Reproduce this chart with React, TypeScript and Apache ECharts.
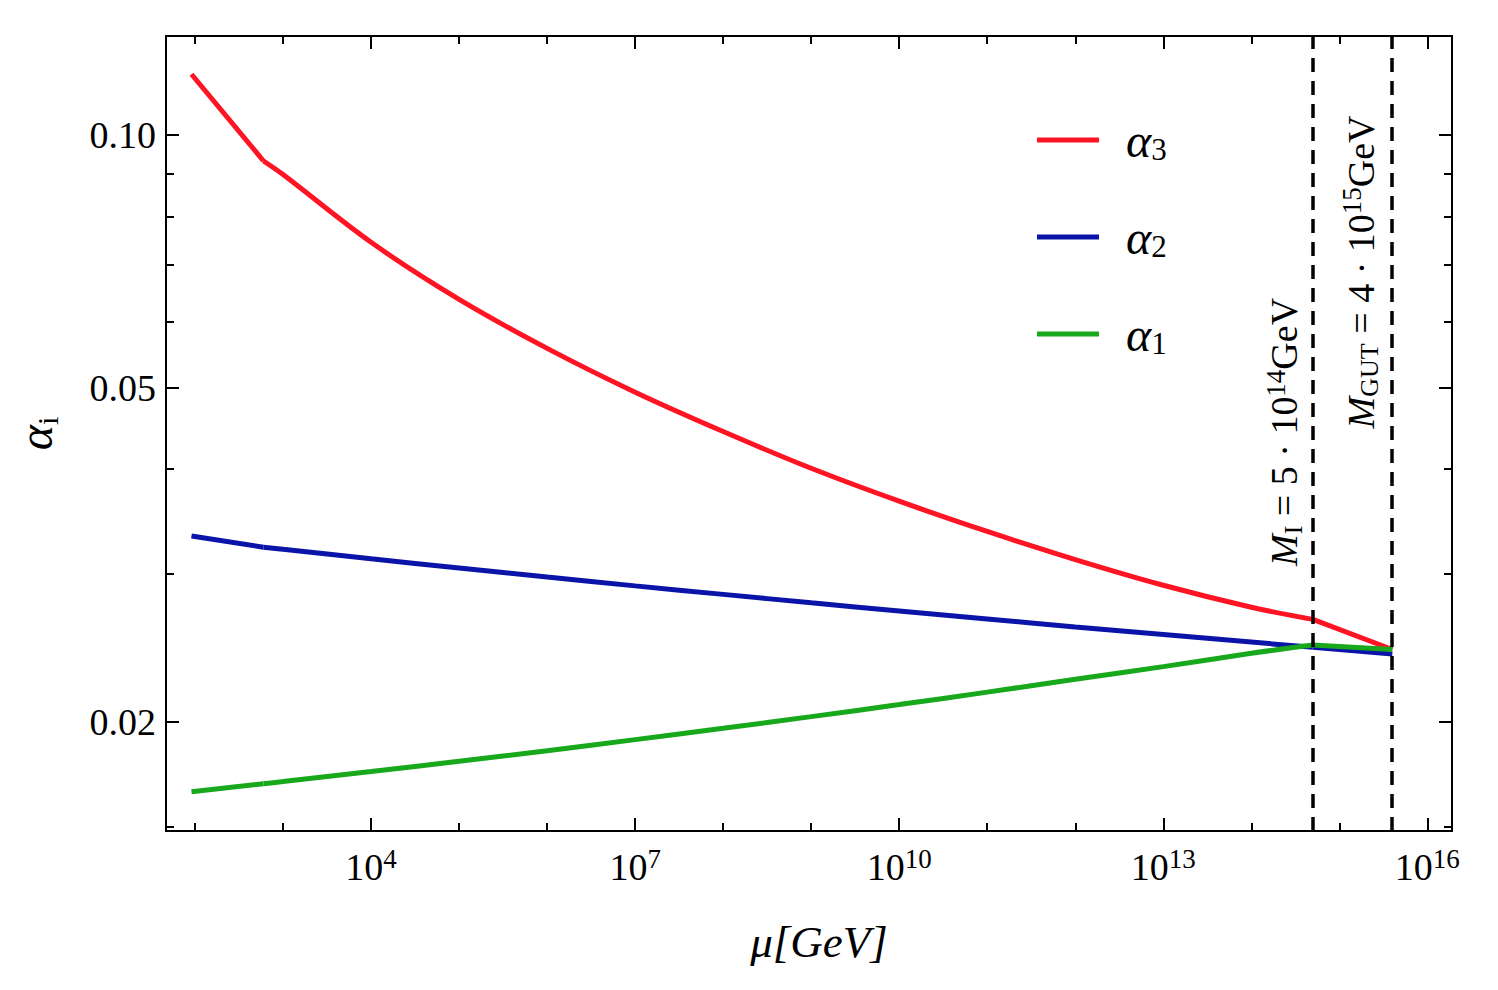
import React, { useEffect, useRef } from "react";
import * as echarts from "echarts";

// ---- data ----
const muGeV = [91.19, 600, 1e3, 1e4, 1e5, 1e6, 1e7, 1e8, 1e9, 1e10, 1e11, 1e12, 1e13, 1e14, 5e14, 4e15];
const alpha3 = [0.1181, 0.0931, 0.0897, 0.0745, 0.0637, 0.0557, 0.0494, 0.04435, 0.0401, 0.03664, 0.03372, 0.03122, 0.0291, 0.0274, 0.0265, 0.0244];
const alpha2 = [0.0333, 0.0323, 0.03211, 0.03129, 0.03051, 0.02976, 0.02905, 0.02838, 0.02773, 0.02712, 0.02653, 0.02596, 0.02542, 0.0249, 0.02455, 0.0241];
const alpha1 = [0.01652, 0.01689, 0.01699, 0.01746, 0.01796, 0.01849, 0.01906, 0.01966, 0.0203, 0.02098, 0.02171, 0.02249, 0.02328, 0.02415, 0.0247, 0.0244];

// thresholds where the running changes slope (indices into muGeV)
const thresholdIdx = [1, 14];

const seriesNames = ["α3", "α2", "α1"];
const scaleNames = ["M_I", "M_GUT"];
const scaleValues = [5e14, 4e15];

// tick labels / ticks
const xMajorExp = [4, 7, 10, 13, 16];
const xMinorExp = [2, 3, 5, 6, 8, 9, 11, 12, 14, 15];
const yMajorTicks = [0.02, 0.05, 0.1];
const yMinorTicks = [0.015, 0.03, 0.04, 0.06, 0.07, 0.08, 0.09];

// axis ranges
const muRange = [46.8, 1.905e16];
const alphaRange = [0.014836, 0.13115];

const FONT = "'Liberation Serif', 'Times New Roman', Times, serif";
const RED = "#ff1423";
const BLUE = "#0a14a8";
const GREEN = "#18a81c";

const lg = (v: number) => Math.log10(v);

export default function App() {
  const ref = useRef<HTMLDivElement>(null);

  useEffect(() => {
    if (!ref.current) return;
    const chart = echarts.init(ref.current, undefined, { renderer: "svg" });

    const xMin = lg(muRange[0]);
    const xMax = lg(muRange[1]);
    const yMin = lg(alphaRange[0]);
    const yMax = lg(alphaRange[1]);

    const pts = (arr: number[]) => muGeV.map((m, i) => [lg(m), lg(arr[i])]);

    // split a curve at the thresholds so that each piece is smoothed on its own
    const segments = (arr: number[]) => {
      const p = pts(arr);
      const cuts = [0, ...thresholdIdx, p.length - 1];
      const out: number[][][] = [];
      for (let k = 0; k < cuts.length - 1; k++) out.push(p.slice(cuts[k], cuts[k + 1] + 1));
      return out;
    };

    const lineCol = { color: "#000", width: 2 };
    const MAJ = 13;
    const MIN = 8;

    const xBase = (pos: string) => ({
      type: "value",
      position: pos,
      min: xMin,
      max: xMax,
      splitLine: { show: false },
    });
    const yBase = (pos: string) => ({
      type: "value",
      position: pos,
      min: yMin,
      max: yMax,
      splitLine: { show: false },
    });

    const tickRich = {
      b: { fontFamily: FONT, fontSize: 38, lineHeight: 44, color: "#000" },
      s: { fontFamily: FONT, fontSize: 27, lineHeight: 22, verticalAlign: "top", color: "#000" },
    };

    const annRich = {
      m: { fontFamily: FONT, fontStyle: "italic", fontSize: 38, lineHeight: 44, color: "#000" },
      ms: { fontFamily: FONT, fontSize: 26, lineHeight: 26, verticalAlign: "bottom", color: "#000" },
      t: { fontFamily: FONT, fontSize: 38, lineHeight: 44, color: "#000" },
      sup: { fontFamily: FONT, fontSize: 27, lineHeight: 22, verticalAlign: "top", color: "#000" },
    };

    const annText = (i: number) => {
      const sub = scaleNames[i].split("_")[1];
      const exp = Math.floor(lg(scaleValues[i]));
      const mant = Math.round(scaleValues[i] / Math.pow(10, exp));
      return `{m|M}{ms|${sub}}{t| = ${mant} · 10}{sup|${exp}}{t|GeV}`;
    };

    // label centres (data space), placed just left of each dashed line
    const annAnchors = [
      [lg(scaleValues[0]) - 0.326, -1.3536],
      [lg(scaleValues[1]) - 0.36, -1.1631],
    ];

    const curves = [
      { name: seriesNames[0], data: alpha3, color: RED, z: 3 },
      { name: seriesNames[1], data: alpha2, color: BLUE, z: 2 },
      { name: seriesNames[2], data: alpha1, color: GREEN, z: 4 },
    ];

    const series: any[] = [];
    curves.forEach((c) => {
      segments(c.data).forEach((seg) => {
        series.push({
          type: "line",
          name: c.name,
          data: seg,
          symbol: "none",
          silent: true,
          smooth: seg.length > 2 ? 0.35 : false,
          lineStyle: { color: c.color, width: 5 },
          itemStyle: { color: c.color },
          z: c.z,
        });
      });
    });

    series.push({
      type: "line",
      name: "thresholds",
      data: [],
      symbol: "none",
      silent: true,
      z: 5,
      markLine: {
        silent: true,
        symbol: ["none", "none"],
        label: { show: false },
        lineStyle: { color: "#000", width: 3.5, type: [14, 9] },
        data: scaleValues.map((m) => ({ xAxis: lg(m) })),
      },
      markPoint: {
        silent: true,
        symbol: "circle",
        symbolSize: 0,
        itemStyle: { color: "rgba(0,0,0,0)" },
        label: {
          show: true,
          position: "inside",
          rotate: 90,
          color: "#000",
          rich: annRich,
        },
        data: annAnchors.map((c, i) => ({
          coord: c,
          label: { formatter: () => annText(i) },
        })),
      },
    });

    const option: any = {
      animation: false,
      backgroundColor: "#fff",
      grid: { left: 166, top: 36, right: 46, bottom: 159, containLabel: false, outerBoundsMode: "none" },
      legend: {
        orient: "vertical",
        left: 1037,
        top: 116,
        padding: 0,
        icon: "rect",
        itemWidth: 62,
        itemHeight: 5,
        itemGap: 48,
        selectedMode: false,
        data: seriesNames,
        formatter: (name: string) => `{a|α}{s|${name.slice(1)}}`,
        textStyle: {
          padding: [0, 0, 0, 22],
          rich: {
            a: { fontFamily: FONT, fontStyle: "italic", fontSize: 48, lineHeight: 50, color: "#000" },
            s: { fontFamily: FONT, fontSize: 31, lineHeight: 28, verticalAlign: "bottom", color: "#000" },
          },
        },
      },
      xAxis: [
        {
          ...xBase("bottom"),
          axisLine: { show: true, onZero: false, lineStyle: lineCol },
          axisTick: { show: true, inside: true, length: MAJ, lineStyle: lineCol, customValues: xMajorExp },
          axisLabel: {
            show: true,
            margin: 14,
            customValues: xMajorExp,
            formatter: (v: number) => `{b|10}{s|${Math.round(v)}}`,
            rich: tickRich,
          },
          name: "μ[GeV]",
          nameLocation: "middle",
          nameGap: 88,
          nameTextStyle: {
            fontFamily: FONT,
            fontStyle: "italic",
            fontSize: 45,
            color: "#000",
            padding: [0, 0, 0, 20],
          },
        },
        {
          ...xBase("bottom"),
          axisLine: { show: false, onZero: false },
          axisTick: { show: true, inside: true, length: MIN, lineStyle: lineCol, customValues: xMinorExp },
          axisLabel: { show: false },
        },
        {
          ...xBase("top"),
          axisLine: { show: true, onZero: false, lineStyle: lineCol },
          axisTick: { show: true, inside: true, length: MAJ, lineStyle: lineCol, customValues: xMajorExp },
          axisLabel: { show: false },
        },
        {
          ...xBase("top"),
          axisLine: { show: false, onZero: false },
          axisTick: { show: true, inside: true, length: MIN, lineStyle: lineCol, customValues: xMinorExp },
          axisLabel: { show: false },
        },
      ],
      yAxis: [
        {
          ...yBase("left"),
          axisLine: { show: true, onZero: false, lineStyle: lineCol },
          axisTick: { show: true, inside: true, length: MAJ, lineStyle: lineCol, customValues: yMajorTicks.map(lg) },
          axisLabel: {
            show: true,
            margin: 10,
            customValues: yMajorTicks.map(lg),
            formatter: (v: number) => Math.pow(10, v).toFixed(2),
            fontFamily: FONT,
            fontSize: 38,
            color: "#000",
          },
          name: "{a|α}{s|i}",
          nameLocation: "middle",
          nameRotate: 90,
          nameGap: 104,
          nameTextStyle: {
            rich: {
              a: { fontFamily: FONT, fontStyle: "italic", fontSize: 48, lineHeight: 54, color: "#000" },
              s: { fontFamily: FONT, fontSize: 30, lineHeight: 30, verticalAlign: "bottom", color: "#000" },
            },
          },
        },
        {
          ...yBase("left"),
          axisLine: { show: false, onZero: false },
          axisTick: { show: true, inside: true, length: MIN, lineStyle: lineCol, customValues: yMinorTicks.map(lg) },
          axisLabel: { show: false },
        },
        {
          ...yBase("right"),
          axisLine: { show: true, onZero: false, lineStyle: lineCol },
          axisTick: { show: true, inside: true, length: MAJ, lineStyle: lineCol, customValues: yMajorTicks.map(lg) },
          axisLabel: { show: false },
        },
        {
          ...yBase("right"),
          axisLine: { show: false, onZero: false },
          axisTick: { show: true, inside: true, length: MIN, lineStyle: lineCol, customValues: yMinorTicks.map(lg) },
          axisLabel: { show: false },
        },
      ],
      series,
    };

    chart.setOption(option);
    return () => chart.dispose();
  }, []);

  return (
    <div
      ref={ref}
      style={{ position: "fixed", left: 0, top: 0, width: 1498, height: 990, background: "#fff" }}
    />
  );
}
